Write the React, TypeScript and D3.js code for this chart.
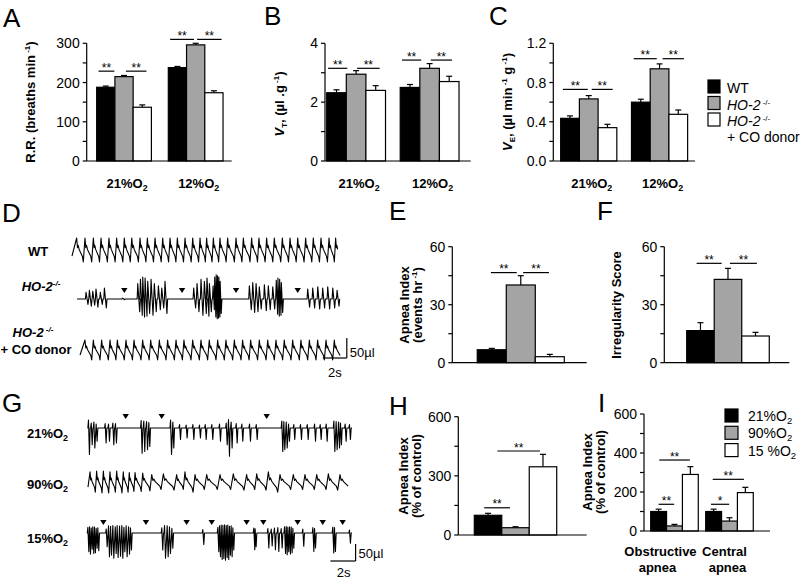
import React from 'react';
import * as d3 from 'd3';

const FONT = "'Liberation Sans', Arial, Helvetica, sans-serif";
const GREY = '#a4a4a4';
const FILLS = ['#000000', GREY, '#ffffff'];

// ---------------- Data ----------------
const O2_ABC = ['21', '12'];
const GENOTYPES = ['WT', 'HO-2 -/-', 'HO-2 -/- + CO donor'];
const RR_MEAN = [[188, 215, 137], [238, 296, 174]];
const RR_SEM = [[3, 3, 6], [3, 4, 5]];
const VT_MEAN = [[2.32, 2.95, 2.4], [2.5, 3.15, 2.7]];
const VT_SEM = [[0.1, 0.12, 0.16], [0.1, 0.16, 0.18]];
const VE_MEAN = [[0.435, 0.633, 0.34], [0.6, 0.94, 0.476]];
const VE_SEM = [[0.025, 0.034, 0.034], [0.03, 0.05, 0.044]];
const APNEA_MEAN = [[6.7, 40.2, 3.1]];
const APNEA_SEM = [[0.7, 4.8, 1.2]];
const IRREG_MEAN = [[16.6, 43.1, 13.8]];
const IRREG_SEM = [[4.1, 5.7, 1.9]];
const O2_GHI = ['21', '90', '15 '];
const APNEA_O2_MEAN = [[100, 37, 346]];
const APNEA_O2_SEM = [[10, 5, 63]];
const APNEA_TYPES = [['Obstructive', 'apnea'], ['Central', 'apnea']];
const APNEA_TYPE_MEAN = [[100, 26, 290], [100, 51, 197]];
const APNEA_TYPE_SEM = [[12, 8, 40], [12, 17, 27]];

// Traces (time in s; amplitudes in µl)
const WT_PEAKS = [0.39, 1.08, 1.78, 2.42, 3.08, 3.72, 4.36, 4.98, 5.67, 6.28, 6.92, 7.56, 8.17, 8.78, 9.42, 10.06, 10.67, 11.22, 11.78, 12.33, 12.97, 13.67, 14.28, 14.97, 15.58, 16.22, 16.86, 17.53, 18.17, 18.81, 19.47, 20.11, 20.75, 21.42, 21.97];
const CO_PEAKS = [1.08, 1.78, 2.47, 3.17, 3.78, 4.5, 5.17, 5.89, 6.56, 7.28, 7.97, 8.67, 9.33, 10.06, 10.75, 11.44, 12.14, 12.83, 13.53, 14.22, 14.89, 15.61, 16.31, 17.0, 17.69, 18.39, 19.08, 19.78, 20.47, 21.17, 21.86];
// [time, peak-to-peak]
const HO2_EVENTS = [
  [1.25, 30], [1.53, 40], [1.81, 35], [2.08, 45], [2.44, 30], [2.78, 50],
  [4.3, 4],
  [5.56, 70], [5.78, 90], [5.97, 100], [6.17, 95], [6.39, 80], [6.67, 90], [6.94, 70], [7.28, 60], [7.56, 50], [7.83, 80],
  [10.22, 50], [10.5, 70], [10.83, 90], [11.11, 80], [11.33, 95], [11.53, 70], [11.81, 60], [11.94, 100], [12.06, 110], [12.17, 105], [12.28, 100], [12.39, 80],
  [14.86, 60], [15.14, 75], [15.42, 70], [15.69, 55], [16.11, 65], [16.44, 60], [16.81, 55], [17.08, 85], [17.22, 95], [17.36, 90], [17.5, 75],
  [19.72, 45], [20.14, 50], [20.56, 55], [20.97, 50], [21.39, 55], [21.81, 50], [22.17, 40],
];
const HO2_APNEA = [4.36, 9.17, 13.67, 18.81];
// [time, depth]
const G21_EVENTS = [
  [0.08, 78], [0.31, 49], [0.53, 59], [0.72, 39], [1.47, 44], [1.75, 39], [2.11, 49], [2.33, 44],
  [4.47, 74], [4.69, 69], [4.92, 64], [5.11, 54],
  [6.92, 78], [7.11, 59], [7.67, 34], [8.22, 29], [8.78, 34], [9.33, 29], [9.81, 34], [10.36, 34], [11.0, 39],
  [11.56, 49], [11.75, 83], [11.97, 59], [12.39, 44], [12.86, 39], [13.5, 39], [14.06, 34],
  [16.19, 69], [16.36, 64], [16.56, 59], [16.75, 39], [17.19, 34], [17.75, 34], [18.31, 34], [18.92, 39], [19.39, 34], [19.89, 39],
  [20.53, 69], [20.72, 64], [20.92, 59], [21.08, 49], [21.47, 39], [21.83, 34],
];
const G21_APNEA = [3.14, 6.14, 14.89];
// [time, half amplitude]
const G90_PEAKS = [
  [0.17, 30], [0.72, 32], [1.28, 32], [1.83, 30], [2.39, 32], [2.94, 30], [3.44, 28], [3.92, 28], [4.56, 26],
  [5.31, 22], [6.28, 24], [7.39, 22], [8.08, 30], [8.92, 22], [9.89, 22], [11.0, 22], [12.11, 24], [13.22, 22],
  [14.06, 24], [15.03, 30], [16.0, 22], [17.11, 22], [18.08, 22], [19.06, 22], [20.03, 24], [21.0, 22],
];
const G15_EVENTS = [
  [0.03, 55], [0.17, 62], [0.31, 48], [0.44, 60], [0.58, 58], [0.72, 45], [0.86, 52],
  [1.56, 40], [1.75, 70], [1.92, 65], [2.11, 74], [2.31, 60], [2.47, 72], [2.67, 68], [2.86, 74], [3.03, 55], [3.22, 70], [3.42, 62], [3.58, 50],
  [6.19, 50], [6.42, 74], [6.64, 70], [6.83, 60], [7.03, 45],
  [9.61, 34],
  [10.86, 55], [11.0, 70], [11.14, 78], [11.28, 75], [11.42, 80], [11.56, 72], [11.69, 78], [11.83, 65], [11.97, 70], [12.11, 50],
  [13.86, 49], [13.97, 40],
  [15.03, 44], [15.31, 38], [15.58, 49], [15.86, 54], [16.14, 44],
  [16.42, 60], [16.56, 64], [16.69, 55], [16.83, 62], [16.97, 58], [17.11, 45],
  [17.94, 39], [18.78, 54], [18.92, 44],
  [20.44, 59], [20.58, 54],
  [21.83, 30],
];
const G15_APNEA = [1.28, 4.83, 8.22, 10.31, 13.22, 14.61, 17.47, 19.56, 21.22];

// ---------------- helpers ----------------
type Pt = [number, number];
const BREATH_SHAPE: Pt[] = [[0, 1], [0.1, 0.2], [0.18, 0.4], [0.3, 0.05], [0.7, -0.55], [0.8, -1]];

function breathPoints(peaks: number[], amps: number[], t0: number, t1: number): Pt[] {
  const pts: Pt[] = [[t0, -0.5 * amps[0]]];
  peaks.forEach((p, i) => {
    const next = i < peaks.length - 1 ? peaks[i + 1] : p + (p - peaks[i - 1]);
    const T = next - p;
    BREATH_SHAPE.forEach(([ph, v]) => {
      const t = p + ph * T;
      if (t >= t0 && t <= t1) pts.push([t, v * amps[i]]);
    });
  });
  return pts;
}

function spikePoints(ev: number[][], t0: number, t1: number, upK: number, downK: number, wMax: number): Pt[] {
  const pts: Pt[] = [[t0, 0]];
  ev.forEach(([t, a], i) => {
    const prev = i > 0 ? ev[i - 1][0] : -99;
    const next = i < ev.length - 1 ? ev[i + 1][0] : 99;
    const w = Math.min(wMax, 0.4 * Math.min(t - prev, next - t));
    if (t - prev > 0.22) pts.push([t - w - 0.05, 0]);
    pts.push([t - w, a * upK]);
    pts.push([t + w, -a * downK]);
    if (next - t > 0.22) pts.push([t + w + 0.06, 0]);
  });
  pts.push([t1, 0]);
  return pts;
}

function Trace({ pts, x, y }: { pts: Pt[]; x: d3.ScaleLinear<number, number>; y: d3.ScaleLinear<number, number> }) {
  const line = d3.line<Pt>().x((d) => x(d[0])).y((d) => y(d[1]));
  return <path d={line(pts) || ''} fill="none" stroke="#000" strokeWidth={1.1} strokeLinejoin="round" />;
}

function Triangles({ times, x, yTop }: { times: number[]; x: d3.ScaleLinear<number, number>; yTop: number }) {
  return (
    <g>
      {times.map((t, i) => {
        const cx = x(t);
        return <path key={i} d={`M${cx - 3.2},${yTop} L${cx + 3.2},${yTop} L${cx},${yTop + 5} Z`} fill="#000" />;
      })}
    </g>
  );
}

interface Sig { g: number; from: number; to: number; y: number; label: string }
interface Layout {
  x0: number; x1: number; yBase: number; yTop: number; yMax: number;
  step: number; labelEvery: number; fmt: (v: number) => string;
  padInner: number; padOuter: number; align: number;
}

function BarPanel({ means, sems, L, sigs, groupLabels }: { means: number[][]; sems: number[][]; L: Layout; sigs: Sig[]; groupLabels?: (cx: number, i: number) => React.ReactNode }) {
  const y = d3.scaleLinear().domain([0, L.yMax]).range([L.yBase, L.yTop]);
  const gx = d3.scaleBand<number>().domain(d3.range(means.length)).range([L.x0, L.x1])
    .paddingInner(L.padInner).paddingOuter(L.padOuter).align(L.align);
  const sx = d3.scaleBand<number>().domain(d3.range(3)).range([0, gx.bandwidth()]).padding(0);
  const bw = sx.bandwidth();
  const ticks = d3.range(0, L.yMax + L.step / 2, L.step);
  return (
    <g>
      {means.map((grp, gi) =>
        grp.map((v, si) => {
          const x = (gx(gi) as number) + (sx(si) as number);
          const cx = x + bw / 2;
          const yt = y(v);
          const ye = y(v + sems[gi][si]);
          return (
            <g key={`${gi}-${si}`}>
              <line x1={cx} x2={cx} y1={yt} y2={ye} stroke="#000" strokeWidth={1.2} />
              <line x1={cx - 3} x2={cx + 3} y1={ye} y2={ye} stroke="#000" strokeWidth={1.2} />
              <rect x={x} y={yt} width={bw} height={y(0) - yt} fill={FILLS[si]} stroke="#000" strokeWidth={1.2} />
            </g>
          );
        })
      )}
      <line x1={L.x0} x2={L.x0} y1={y(0)} y2={y(L.yMax)} stroke="#000" strokeWidth={1.2} />
      <line x1={L.x0} x2={L.x1} y1={y(0)} y2={y(0)} stroke="#000" strokeWidth={1.2} />
      {ticks.map((t, i) => (
        <g key={i}>
          <line x1={L.x0 - 4} x2={L.x0} y1={y(t)} y2={y(t)} stroke="#000" strokeWidth={1.2} />
          {i % L.labelEvery === 0 && (
            <text x={L.x0 - 7} y={y(t)} dy="0.36em" textAnchor="end" fontSize={14} fontFamily={FONT}>{L.fmt(t)}</text>
          )}
        </g>
      ))}
      {sigs.map((s, i) => {
        const gl = gx(s.g) as number;
        const xa = gl + s.from * bw;
        const xb = gl + s.to * bw;
        const yy = y(s.y);
        return (
          <g key={i}>
            <line x1={xa} x2={xb} y1={yy} y2={yy} stroke="#000" strokeWidth={1.2} />
            <text x={(xa + xb) / 2} y={yy + 0.5} textAnchor="middle" fontSize={12} fontFamily={FONT}>{s.label}</text>
          </g>
        );
      })}
      {groupLabels && means.map((_, gi) => <g key={`gl${gi}`}>{groupLabels((gx(gi) as number) + gx.bandwidth() / 2, gi)}</g>)}
    </g>
  );
}

const O2Label = ({ x, y, pct, size = 13, bold = true, anchor = 'middle' }: any) => (
  <text x={x} y={y} textAnchor={anchor} fontSize={size} fontWeight={bold ? 'bold' : 'normal'} fontFamily={FONT}>
    {pct}%O<tspan fontSize={size * 0.68} dy={3}>2</tspan>
  </text>
);

const Sup = ({ children, size = 8 }: any) => <tspan fontSize={size} dy={-5}>{children}</tspan>;
const Back = ({ children }: any) => <tspan dy={5}>{children}</tspan>;

const Letter = ({ x, y, c }: { x: number; y: number; c: string }) => (
  <text x={x} y={y} fontSize={26} fontFamily={FONT}>{c}</text>
);

// ---------------- App ----------------
export default function App() {
  const fmt0 = (v: number) => d3.format('d')(v);
  const fmt1 = (v: number) => d3.format('.1f')(v);

  const LA: Layout = { x0: 86.7, x1: 231.7, yBase: 161, yTop: 43.3, yMax: 300, step: 50, labelEvery: 2, fmt: fmt0, padInner: 0.236, padOuter: 0.13, align: 0.535 };
  const LB: Layout = { x0: 325, x1: 470.7, yBase: 161, yTop: 43.3, yMax: 4, step: 1, labelEvery: 2, fmt: fmt0, padInner: 0.2, padOuter: 0.091, align: 0.127 };
  const LC: Layout = { x0: 553.3, x1: 695, yBase: 161, yTop: 43.3, yMax: 1.2, step: 0.2, labelEvery: 2, fmt: fmt1, padInner: 0.207, padOuter: 0.104, align: 0.5 };
  const LE: Layout = { x0: 452.3, x1: 586.7, yBase: 362.7, yTop: 246.7, yMax: 60, step: 15, labelEvery: 2, fmt: fmt0, padInner: 0, padOuter: 0.272, align: 0.527 };
  const LF: Layout = { x0: 664.3, x1: 789.3, yBase: 362.7, yTop: 246.7, yMax: 60, step: 15, labelEvery: 2, fmt: fmt0, padInner: 0, padOuter: 0.257, align: 0.528 };
  const LH: Layout = { x0: 458.3, x1: 586.7, yBase: 535, yTop: 416.7, yMax: 600, step: 150, labelEvery: 2, fmt: fmt0, padInner: 0, padOuter: 0.279, align: 0.348 };
  const LI: Layout = { x0: 644, x1: 770, yBase: 531, yTop: 414, yMax: 600, step: 100, labelEvery: 2, fmt: fmt0, padInner: 0.135, padOuter: 0.213, align: 0.286 };

  const SA: Sig[] = [
    { g: 0, from: 0.1, to: 0.97, y: 229, label: '**' }, { g: 0, from: 1.6, to: 2.73, y: 229, label: '**' },
    { g: 1, from: 0.1, to: 1.41, y: 310, label: '**' }, { g: 1, from: 1.58, to: 2.92, y: 310, label: '**' },
  ];
  const SB: Sig[] = [
    { g: 0, from: 0.07, to: 1.05, y: 3.15, label: '**' }, { g: 0, from: 1.55, to: 2.7, y: 3.15, label: '**' },
    { g: 1, from: 0.09, to: 1.07, y: 3.43, label: '**' }, { g: 1, from: 1.56, to: 2.64, y: 3.43, label: '**' },
  ];
  const SC: Sig[] = [
    { g: 0, from: 0.12, to: 1.45, y: 0.73, label: '**' }, { g: 0, from: 1.66, to: 2.78, y: 0.73, label: '**' },
    { g: 1, from: 0.12, to: 1.35, y: 1.043, label: '**' }, { g: 1, from: 1.66, to: 2.8, y: 1.043, label: '**' },
  ];
  const SE: Sig[] = [{ g: 0, from: 0.47, to: 1.36, y: 46.6, label: '**' }, { g: 0, from: 1.58, to: 2.47, y: 46.6, label: '**' }];
  const SF: Sig[] = [{ g: 0, from: 0.36, to: 1.27, y: 51.4, label: '**' }, { g: 0, from: 1.57, to: 2.55, y: 51.4, label: '**' }];
  const SH: Sig[] = [{ g: 0, from: 0.36, to: 1.3, y: 138, label: '**' }, { g: 0, from: 0.84, to: 2.39, y: 426, label: '**' }];
  const SI: Sig[] = [
    { g: 0, from: 0.5, to: 1.48, y: 137, label: '**' }, { g: 0, from: 0.54, to: 2.47, y: 364, label: '**' },
    { g: 1, from: 0.33, to: 1.48, y: 137, label: '*' }, { g: 1, from: 0.44, to: 2.41, y: 265, label: '**' },
  ];

  const abcLabels = (cx: number, i: number) => <O2Label x={cx + 3} y={188} pct={O2_ABC[i]} />;
  const iLabelShift = [[-14, -17], [-5, -2]];

  // trace scales
  const xD = d3.scaleLinear().domain([0, 23]).range([72, 348]);
  const xG = d3.scaleLinear().domain([0, 22]).range([88, 352]);
  const rowD = (c: number) => d3.scaleLinear().domain([0, 50]).range([c, c - 20]);
  const rowG = (c: number) => d3.scaleLinear().domain([0, 50]).range([c, c - 17]);

  const wtPts = breathPoints(WT_PEAKS, WT_PEAKS.map(() => 30), 0, 22.3);
  const coPts = breathPoints(CO_PEAKS, CO_PEAKS.map(() => 25), 0.67, 22.4);
  const hoPts = spikePoints(HO2_EVENTS, 0.42, 22.3, 0.55, 0.45, 0.08);
  const g21Pts = spikePoints(G21_EVENTS, 0, 22, 0.3, 1, 0.04);
  const g90Pts = breathPoints(G90_PEAKS.map((d) => d[0]), G90_PEAKS.map((d) => d[1]), 0, 21.7);
  const g15Pts = spikePoints(G15_EVENTS, 0, 22, 0.3, 1, 0.04);

  // scale bars
  const dBarY = rowD(358);
  const gBarY = rowG(561);

  const base = { fontFamily: FONT } as const;
  const TS = 13;

  return (
    <svg width={810} height={580} style={{ position: 'absolute', left: 0, top: 0, background: '#fff' }}>
      <rect width={810} height={580} fill="#fff" />
      {/* ---- A ---- */}
      <Letter x={3} y={27} c="A" />
      <BarPanel means={RR_MEAN} sems={RR_SEM} L={LA} sigs={SA} groupLabels={abcLabels} />
      <text transform="translate(35,102) rotate(-90)" textAnchor="middle" fontSize={TS} fontWeight="bold" {...base}>
        R.R. (breaths min<Sup> -1</Sup><Back>)</Back>
      </text>
      {/* ---- B ---- */}
      <Letter x={264} y={25} c="B" />
      <BarPanel means={VT_MEAN} sems={VT_SEM} L={LB} sigs={SB} groupLabels={abcLabels} />
      <text transform="translate(284,104) rotate(-90)" textAnchor="middle" fontSize={TS} fontWeight="bold" {...base}>
        <tspan fontStyle="italic">V</tspan><tspan fontSize={8} dy={3}>T</tspan><tspan dy={-3}>, (µl .g</tspan><Sup> -1</Sup><Back>)</Back>
      </text>
      {/* ---- C ---- */}
      <Letter x={489} y={25} c="C" />
      <BarPanel means={VE_MEAN} sems={VE_SEM} L={LC} sigs={SC} groupLabels={abcLabels} />
      <text transform="translate(512,102) rotate(-90)" textAnchor="middle" fontSize={TS} fontWeight="bold" {...base}>
        <tspan fontStyle="italic">V</tspan><tspan fontSize={8} dy={3}>E</tspan><tspan dy={-3}>, (µl min</tspan><Sup> -1</Sup><Back> g</Back><Sup> -1</Sup><Back>)</Back>
      </text>
      {/* legend A-C */}
      {GENOTYPES.map((g, i) => (
        <rect key={g} x={708} y={80 + i * 16.5} width={12} height={13} fill={FILLS[i]} stroke="#000" strokeWidth={1.2} />
      ))}
      <text x={727} y={93} fontSize={14} {...base}>WT</text>
      <text x={727} y={110} fontSize={14} {...base}><tspan fontStyle="italic">HO-2</tspan><Sup> -/-</Sup></text>
      <text x={727} y={126} fontSize={14} {...base}><tspan fontStyle="italic">HO-2</tspan><Sup> -/-</Sup></text>
      <text x={727} y={142} fontSize={14} {...base}>+ CO donor</text>

      {/* ---- D ---- */}
      <Letter x={2} y={222} c="D" />
      <text x={38} y={256} textAnchor="middle" fontSize={13} fontWeight="bold" {...base}>WT</text>
      <text x={41} y={291} textAnchor="middle" fontSize={13} fontWeight="bold" fontStyle="italic" {...base}>HO-2<Sup>-/-</Sup></text>
      <text x={33} y={337} textAnchor="middle" fontSize={13} fontWeight="bold" fontStyle="italic" {...base}>HO-2<Sup> -/-</Sup></text>
      <text x={36} y={354} textAnchor="middle" fontSize={13} fontWeight="bold" {...base}>+ CO donor</text>
      <Trace pts={wtPts} x={xD} y={rowD(250)} />
      <Trace pts={hoPts} x={xD} y={rowD(299)} />
      <Trace pts={coPts} x={xD} y={rowD(350)} />
      <Triangles times={HO2_APNEA} x={xD} yTop={288} />
      <line x1={xD(22.9)} x2={xD(22.9)} y1={dBarY(0)} y2={dBarY(50)} stroke="#000" strokeWidth={1.2} />
      <line x1={xD(20.9)} x2={xD(22.9)} y1={dBarY(0)} y2={dBarY(0)} stroke="#000" strokeWidth={1.2} />
      <text x={xD(22.9) + 3} y={357} fontSize={13} {...base}>50µl</text>
      <text x={xD(21.9)} y={377} textAnchor="middle" fontSize={13} {...base}>2s</text>

      {/* ---- E ---- */}
      <Letter x={389} y={220} c="E" />
      <BarPanel means={APNEA_MEAN} sems={APNEA_SEM} L={LE} sigs={SE} />
      <text transform="translate(409,305) rotate(-90)" textAnchor="middle" fontSize={TS} fontWeight="bold" {...base}>Apnea Index</text>
      <text transform="translate(422,305) rotate(-90)" textAnchor="middle" fontSize={TS} fontWeight="bold" {...base}>
        (events hr<Sup> -1</Sup><Back>)</Back>
      </text>
      {/* ---- F ---- */}
      <Letter x={597} y={220} c="F" />
      <BarPanel means={IRREG_MEAN} sems={IRREG_SEM} L={LF} sigs={SF} />
      <text transform="translate(621,305) rotate(-90)" textAnchor="middle" fontSize={TS} fontWeight="bold" {...base}>Irregularity Score</text>

      {/* ---- G ---- */}
      <Letter x={2} y={412} c="G" />
      {O2_GHI.map((p, i) => (
        <O2Label key={p} x={47.5} y={[438, 489, 543][i]} pct={p.trim()} />
      ))}
      <Trace pts={g21Pts} x={xG} y={rowG(428)} />
      <Trace pts={g90Pts} x={xG} y={rowG(482)} />
      <Trace pts={g15Pts} x={xG} y={rowG(533)} />
      <Triangles times={G21_APNEA} x={xG} yTop={414} />
      <Triangles times={G15_APNEA} x={xG} yTop={520} />
      <line x1={xG(22.3)} x2={xG(22.3)} y1={gBarY(0)} y2={gBarY(50)} stroke="#000" strokeWidth={1.2} />
      <line x1={xG(20.2)} x2={xG(22.3)} y1={gBarY(0)} y2={gBarY(0)} stroke="#000" strokeWidth={1.2} />
      <text x={xG(22.3) + 3} y={558} fontSize={13} {...base}>50µl</text>
      <text x={xG(21.3)} y={577} textAnchor="middle" fontSize={13} {...base}>2s</text>

      {/* ---- H ---- */}
      <Letter x={389} y={415} c="H" />
      <BarPanel means={APNEA_O2_MEAN} sems={APNEA_O2_SEM} L={LH} sigs={SH} />
      <text transform="translate(408,476) rotate(-90)" textAnchor="middle" fontSize={TS} fontWeight="bold" {...base}>Apnea Index</text>
      <text transform="translate(421,476) rotate(-90)" textAnchor="middle" fontSize={TS} fontWeight="bold" {...base}>(% of control)</text>

      {/* ---- I ---- */}
      <Letter x={598} y={412} c="I" />
      <BarPanel means={APNEA_TYPE_MEAN} sems={APNEA_TYPE_SEM} L={LI} sigs={SI}
        groupLabels={(cx, i) => (
          <text y={556} textAnchor="middle" fontSize={13} fontWeight="bold" {...base}>
            <tspan x={cx + iLabelShift[i][0]}>{APNEA_TYPES[i][0]}</tspan>
            <tspan x={cx + iLabelShift[i][1]} dy={15.5}>{APNEA_TYPES[i][1]}</tspan>
          </text>
        )} />
      <text transform="translate(592,472) rotate(-90)" textAnchor="middle" fontSize={TS} fontWeight="bold" {...base}>Apnea Index</text>
      <text transform="translate(605,472) rotate(-90)" textAnchor="middle" fontSize={TS} fontWeight="bold" {...base}>(% of control)</text>
      {O2_GHI.map((p, i) => (
        <g key={`li${i}`}>
          <rect x={725} y={409 + i * 17.3} width={13} height={13} fill={FILLS[i]} stroke="#000" strokeWidth={1.2} />
          <O2Label x={748} y={[421, 438, 456][i]} pct={p} size={14} bold={false} anchor="start" />
        </g>
      ))}
    </svg>
  );
}
